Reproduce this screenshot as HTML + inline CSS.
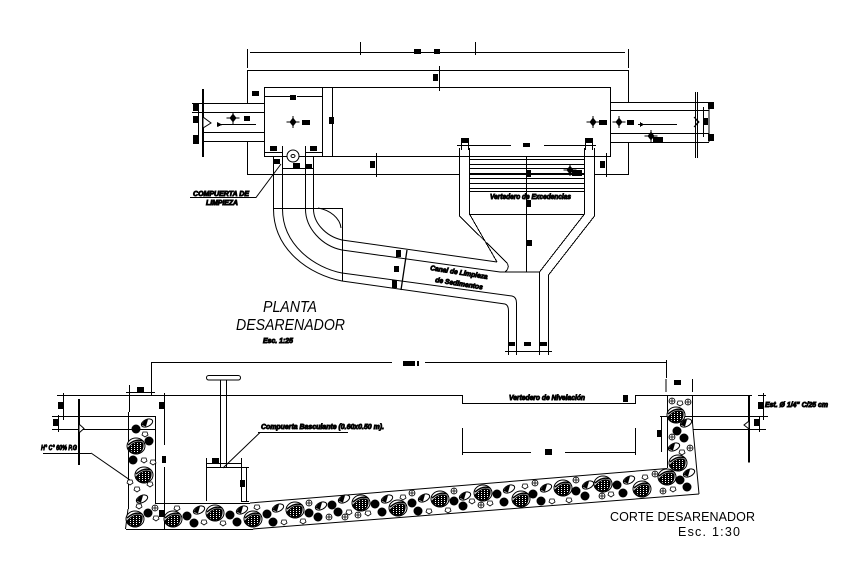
<!DOCTYPE html>
<html><head><meta charset="utf-8"><style>
html,body{margin:0;padding:0;background:#fff}
svg{display:block}
text{font-family:"Liberation Sans",sans-serif;fill:#000}
.l{font-weight:bold;font-style:italic;font-size:7px;stroke:#000;stroke-width:.9}
.t{font-style:italic;font-size:16px}
.c{font-size:12.500px}
</style></head><body>
<svg width="863" height="576" viewBox="0 0 863 576" xmlns="http://www.w3.org/2000/svg">
<defs>
<pattern id="h" width="3" height="2" patternUnits="userSpaceOnUse"><rect width="3" height="2" fill="#000"/><rect x="1" y="1" width="1" height="1" fill="#fff"/></pattern>
<g id="b"><ellipse cx="0" cy="0" rx="9" ry="8" fill="#fff" stroke="#000"/><path d="M-8 2Q0-7 7-3Q8 5 1 8Q-6 7-8 2Z" fill="url(#h)" stroke="#000"/><path d="M-8-1Q0-8 7-5" fill="none" stroke="#000" stroke-width="1.500"/></g>
<g id="k"><circle r="4.500" fill="#000"/></g>
<g id="o"><ellipse rx="6" ry="3.500" transform="rotate(-25)" fill="#fff" stroke="#000"/><path d="M-5.500 2Q-3-3.500 1-3.500L-1 3.500Z" fill="#000"/></g>
<g id="s"><path d="M-2-2L2-2L3 1L0 3L-3 1Z" fill="#fff" stroke="#000" stroke-width=".8"/></g>
<g id="c"><circle r="3" fill="#fff" stroke="#000" stroke-width=".8"/><path d="M-3 0H3M0-3V3" stroke="#000" stroke-width=".8"/></g>
<g id="m"><path d="M-6.500 0H6.500M0-6V6" stroke="#000"/><path d="M0-4.500L3.500 0L0 4.500L-3.500 0Z" fill="#000"/></g>
</defs>

<g fill="none" stroke="#000" stroke-width="1" shape-rendering="crispEdges">
<path d="M250 52.500H414M421 52.500H434M440 52.500H625M247.500 49V68M360.500 42V55M475.500 42V55M628.500 49V68"/>
<path d="M247.500 103V70.500H628.500V102M247.500 141V174.500H459M469 174.500H584M594 174.500H628.500V142"/>
<rect x="264.500" y="87.500" width="346" height="69"/>
<path d="M322.500 87V156"/>
<path d="M192 103.500H264M192 112.500H264M203 132.500H264M203 141.500H264"/>
<path d="M610 102.500H709M610 110.500H709M610 133.500H709M610 142.500H709M709 102V142M695.500 92V158M697.500 92V158M703.500 107V137"/>
<path d="M198.500 103V141"/>
<path d="M217 124.500H256M638 124.500H677"/>
<path d="M439.500 66V91M332.500 88V156M265 96.500H290M297 96.500H322M265 152.500H283M305 152.500H322M282.500 146V156M305.500 146V156M282 168.500H313M376.500 153V177M606.500 153V177"/>
<path d="M459.500 148V216L506 262Q511 267 505 272M469.500 148V214L497 262M584.500 148V214L539.500 272M594.500 148V216L548.500 275V352M539.500 272V352M469 214.500H584M469 159.500H584M469 164.500H584M469 168.500H584M469 173.500H584M469 178.500H584M469 183.500H584M469 188.500H584M469 191.500H584M457 145.500H511M544 145.500H596M526.500 156V272"/>
<path d="M461.500 138V150M468.500 138V150M585.500 138V150M592.500 138V150"/>
<path d="M273.500 156V208M282.500 156V208M305.500 156V208M313.500 156V208"/>
<path d="M273 208.500H342.500V281"/>
</g>
<g fill="none" stroke="#000" stroke-width="1">
<path d="M273.500 208C273 250 310 275 342 281L505 304Q508.500 305 508.500 311V352"/>
<path d="M282.500 208C282 245 315 268 342 273L512 296Q516.500 297 516.500 303V352"/>
<path d="M305.500 208C305 228 322 246 342 250L500 272H539"/>
<path d="M313.500 208C313 222 325 236 342 240L497 262"/>
<path d="M318 208C330 210 340 218 341 228"/>
<path d="M407 250L401 290" stroke-width="1.300"/>
<path d="M505 351.500H552"/>
<path d="M508.500 346V355M516.500 346V355M539.500 346V355M548.500 346V355"/>
<path d="M190 197.500H256L281 164"/>
<circle cx="293" cy="156" r="6" fill="#fff"/><ellipse cx="293" cy="156" rx="2" ry="1.500"/>
</g>
<path d="M203 89V157M79 399V465M749 395V462.500" stroke="#000" stroke-width="2" shape-rendering="crispEdges"/>
<path d="M203 117L211 123L203 128Z" fill="#fff" stroke="#000"/>
<path d="M694 117L699 122L694 127L698 122Z" fill="#fff" stroke="#000"/>

<g fill="#000" shape-rendering="crispEdges">
<rect x="414" y="49" width="7" height="5"/><rect x="434" y="49" width="6" height="5"/>
<rect x="433" y="74" width="5" height="7"/><rect x="290" y="95" width="6" height="5"/><rect x="252" y="91" width="7" height="5"/>
<rect x="329" y="117" width="5" height="7"/><rect x="270" y="146" width="7" height="5"/><rect x="310" y="146" width="7" height="5"/>
<rect x="273" y="159" width="7" height="5"/><rect x="293" y="163" width="7" height="5"/><rect x="306" y="164" width="6" height="5"/>
<rect x="370" y="161" width="5" height="7"/>
<rect x="193" y="103" width="6" height="8"/><rect x="193" y="116" width="6" height="7"/><rect x="193" y="135" width="6" height="9"/>
<rect x="244" y="116" width="6" height="5"/><rect x="302" y="120" width="8" height="5"/><rect x="599" y="120" width="8" height="5"/><rect x="627" y="120" width="7" height="5"/>
<rect x="653" y="137" width="10" height="5"/><rect x="572" y="170" width="10" height="6"/>
<rect x="708" y="102" width="6" height="7"/><rect x="703" y="118" width="5" height="7"/><rect x="708" y="134" width="6" height="7"/>
<rect x="600" y="161" width="5" height="7"/><rect x="523" y="143" width="7" height="4"/><rect x="461" y="138" width="7" height="5"/><rect x="585" y="138" width="7" height="5"/>
<rect x="526" y="170" width="5" height="7"/><rect x="526" y="200" width="5" height="7"/><rect x="527" y="240" width="5" height="6"/>
<rect x="396" y="250" width="5" height="7"/><rect x="394" y="266" width="5" height="6"/><rect x="392" y="280" width="5" height="8"/>
<rect x="508" y="342" width="7" height="4"/><rect x="524" y="342" width="7" height="4"/><rect x="539" y="342" width="8" height="4"/>
<path d="M217 122L222 124.500V125L217 127ZM640 122L644 124.500L640 127Z"/>
<rect x="403" y="361" width="12" height="5"/><rect x="417" y="361" width="2" height="5"/>
<rect x="137" y="387" width="7" height="6"/><rect x="58" y="402" width="5" height="7"/><rect x="53" y="419" width="6" height="7"/>
<rect x="159" y="402" width="5" height="7"/><rect x="162" y="456" width="4" height="7"/><rect x="159" y="510" width="5" height="7"/>
<rect x="212" y="458" width="7" height="5"/><rect x="240" y="480" width="5" height="7"/>
<rect x="545" y="449" width="7" height="6"/><rect x="623" y="395" width="5" height="7"/><rect x="674" y="380" width="7" height="5"/>
<rect x="657" y="430" width="5" height="7"/><rect x="758" y="402" width="5" height="7"/><rect x="754" y="419" width="6" height="7"/>
</g>

<use href="#m" x="233" y="118"/><use href="#m" x="293" y="122"/><use href="#m" x="593" y="122"/><use href="#m" x="619" y="122"/><use href="#m" x="651" y="136"/><use href="#m" x="570" y="170"/>

<g fill="none" stroke="#000" stroke-width="1" shape-rendering="crispEdges">
<path d="M151 362.500H392M425 362.500H666M151.500 362V387M666.500 360V378"/>
<path d="M57 395.500H462.500V403.500H635.500V395.500H752"/>
<path d="M52 416.500H155.500V503.500H250M52 429.500H130M130 429.500H155M660 416.500H768M693 429.500H763"/>
<path d="M667.500 395V468M692.500 395V423M128.500 412V509M126 529.500H253"/>
<path d="M126 392.500H155M129.500 385V412M151.500 385V395M63.500 393V420M58.500 415V432M164.500 393V420M164.500 417V445M164.500 467V505M164.500 505V530"/>
<path d="M206 467.500H241M206.500 458V501M241.500 458V501M206 463.500H241M246.500 467V501M241 467.500H249M241 501.500H249"/>
<path d="M220.500 380V467M226.500 380V467"/>
<path d="M462.500 428V455M463 452.500H531M565 452.500H635M635.500 428V455"/>
<path d="M666 379V392M692.500 379V392M661.500 416V452M763.500 393V420M759.500 416V432M758 395.500H766M756 416.500H766M756 429.500H766"/>
<path d="M43 453.500H91M258 432.500H348"/>
</g>
<g fill="none" stroke="#000" stroke-width="1">
<path d="M250 503L667 468.500M253 529L699 494M692.500 423L699 494M128 509L125.500 529"/>
<path d="M91 453L130 480M260 432.500L223 468"/>
</g>
<rect x="206.500" y="375.500" width="34" height="4.500" rx="2.200" fill="#fff" stroke="#000"/>
<path d="M79 424L84 428.500L79 433Z" fill="#fff" stroke="#000"/>
<path d="M749 421L744 425L749 429Z" fill="#fff" stroke="#000"/>

<g>
<use href="#o" x="147" y="423"/><use href="#k" x="136" y="429"/><use href="#s" x="145" y="434"/><use href="#b" x="136" y="446"/><use href="#k" x="149" y="441"/><use href="#k" x="133" y="460"/><use href="#s" x="144" y="460"/><use href="#s" x="153" y="462"/><use href="#b" x="144" y="475"/><use href="#s" x="130" y="482"/><use href="#s" x="150" y="484"/><use href="#s" x="137" y="489"/><use href="#o" x="142" y="499"/><use href="#s" x="139" y="506"/><use href="#b" x="135" y="519"/><use href="#k" x="148" y="513"/><use href="#c" x="155" y="508"/><use href="#s" x="156" y="518"/>
<use href="#b" x="173" y="519"/><use href="#s" x="177" y="508"/><use href="#k" x="187" y="516"/><use href="#o" x="199" y="510"/><use href="#k" x="194" y="523"/><use href="#s" x="204" y="522"/><use href="#b" x="215" y="513"/><use href="#k" x="230" y="515"/><use href="#o" x="242" y="510"/><use href="#s" x="223" y="523"/><use href="#k" x="237" y="522"/><use href="#b" x="253" y="519"/><use href="#s" x="257" y="507"/><use href="#k" x="267" y="514"/><use href="#k" x="273" y="522"/><use href="#o" x="278" y="508"/><use href="#s" x="284" y="522"/><use href="#b" x="295" y="510"/><use href="#c" x="309" y="503"/><use href="#k" x="309" y="513"/><use href="#s" x="303" y="521"/>
<use href="#o" x="321" y="506"/><use href="#k" x="332" y="505"/><use href="#k" x="318" y="517"/><use href="#c" x="329" y="517"/><use href="#k" x="338" y="512"/><use href="#o" x="344" y="499"/><use href="#b" x="361" y="503"/><use href="#c" x="345" y="517"/><use href="#s" x="349" y="512"/><use href="#c" x="358" y="515"/><use href="#s" x="368" y="513"/><use href="#k" x="375" y="504"/><use href="#k" x="382" y="512"/><use href="#o" x="387" y="499"/><use href="#b" x="398" y="508"/><use href="#k" x="412" y="503"/><use href="#s" x="403" y="497"/><use href="#c" x="412" y="493"/><use href="#o" x="424" y="498"/><use href="#k" x="418" y="511"/><use href="#s" x="429" y="511"/><use href="#b" x="440" y="499"/><use href="#s" x="448" y="510"/><use href="#k" x="454" y="501"/><use href="#c" x="454" y="491"/><use href="#o" x="465" y="496"/><use href="#k" x="463" y="506"/><use href="#s" x="472" y="501"/><use href="#b" x="483" y="493"/><use href="#c" x="481" y="505"/><use href="#s" x="490" y="503"/><use href="#k" x="497" y="494"/><use href="#k" x="504" y="502"/><use href="#o" x="509" y="489"/><use href="#s" x="525" y="486"/><use href="#b" x="521" y="499"/><use href="#c" x="535" y="483"/><use href="#k" x="533" y="494"/><use href="#k" x="541" y="501"/><use href="#o" x="546" y="488"/><use href="#s" x="552" y="501"/><use href="#b" x="563" y="488"/><use href="#k" x="576" y="491"/><use href="#s" x="569" y="500"/><use href="#c" x="576" y="480"/>
<use href="#o" x="588" y="485"/><use href="#k" x="585" y="496"/><use href="#b" x="603" y="484"/><use href="#k" x="617" y="485"/><use href="#c" x="602" y="496"/><use href="#s" x="611" y="494"/><use href="#o" x="629" y="480"/><use href="#k" x="623" y="493"/><use href="#b" x="642" y="489"/><use href="#s" x="645" y="477"/><use href="#c" x="655" y="474"/><use href="#b" x="667" y="477"/><use href="#k" x="680" y="480"/><use href="#o" x="689" y="473"/><use href="#k" x="687" y="487"/><use href="#c" x="663" y="491"/><use href="#s" x="673" y="489"/>
<use href="#c" x="672" y="401"/><use href="#s" x="680" y="403"/><use href="#c" x="688" y="402"/><use href="#b" x="676" y="415"/><use href="#o" x="686" y="423"/><use href="#k" x="677" y="431"/><use href="#c" x="672" y="437"/><use href="#k" x="684" y="438"/><use href="#o" x="674" y="447"/><use href="#s" x="682" y="452"/><use href="#c" x="690" y="448"/><use href="#b" x="678" y="463"/>
</g>

<text class="t" x="263" y="312" textLength="54" lengthAdjust="spacingAndGlyphs">PLANTA</text>
<text class="t" x="236" y="330" textLength="109" lengthAdjust="spacingAndGlyphs">DESARENADOR</text>
<text class="l" x="263" y="343" textLength="30" lengthAdjust="spacingAndGlyphs">Esc. 1:25</text>
<text class="c" x="610" y="521" textLength="145" lengthAdjust="spacing">CORTE DESARENADOR</text>
<text class="c" x="678" y="536" textLength="62" lengthAdjust="spacing">Esc. 1:30</text>
<text class="l" x="193" y="196" textLength="56" lengthAdjust="spacingAndGlyphs">COMPUERTA DE</text>
<text class="l" x="206" y="205" textLength="32" lengthAdjust="spacingAndGlyphs">LIMPIEZA</text>
<text class="l" x="490" y="199" textLength="81" lengthAdjust="spacingAndGlyphs">Vertedero de Excedencias</text>
<text class="l" transform="translate(430 270) rotate(9)" textLength="58" lengthAdjust="spacingAndGlyphs">Canal de Limpieza</text>
<text class="l" transform="translate(435 282) rotate(9)" textLength="48" lengthAdjust="spacingAndGlyphs">de Sedimentos</text>
<text class="l" x="261" y="429" textLength="123" lengthAdjust="spacingAndGlyphs">Compuerta Basculante (0.60x0.50 m).</text>
<text class="l" x="509" y="400" textLength="76" lengthAdjust="spacingAndGlyphs">Vertedero de Nivelación</text>
<text class="l" x="41" y="450" textLength="36" lengthAdjust="spacingAndGlyphs">H° C° 60% P.G</text>
<text class="l" x="765" y="407" textLength="63" lengthAdjust="spacingAndGlyphs">Est. Ø 1/4" C/25 cm</text>
</svg>
</body></html>
